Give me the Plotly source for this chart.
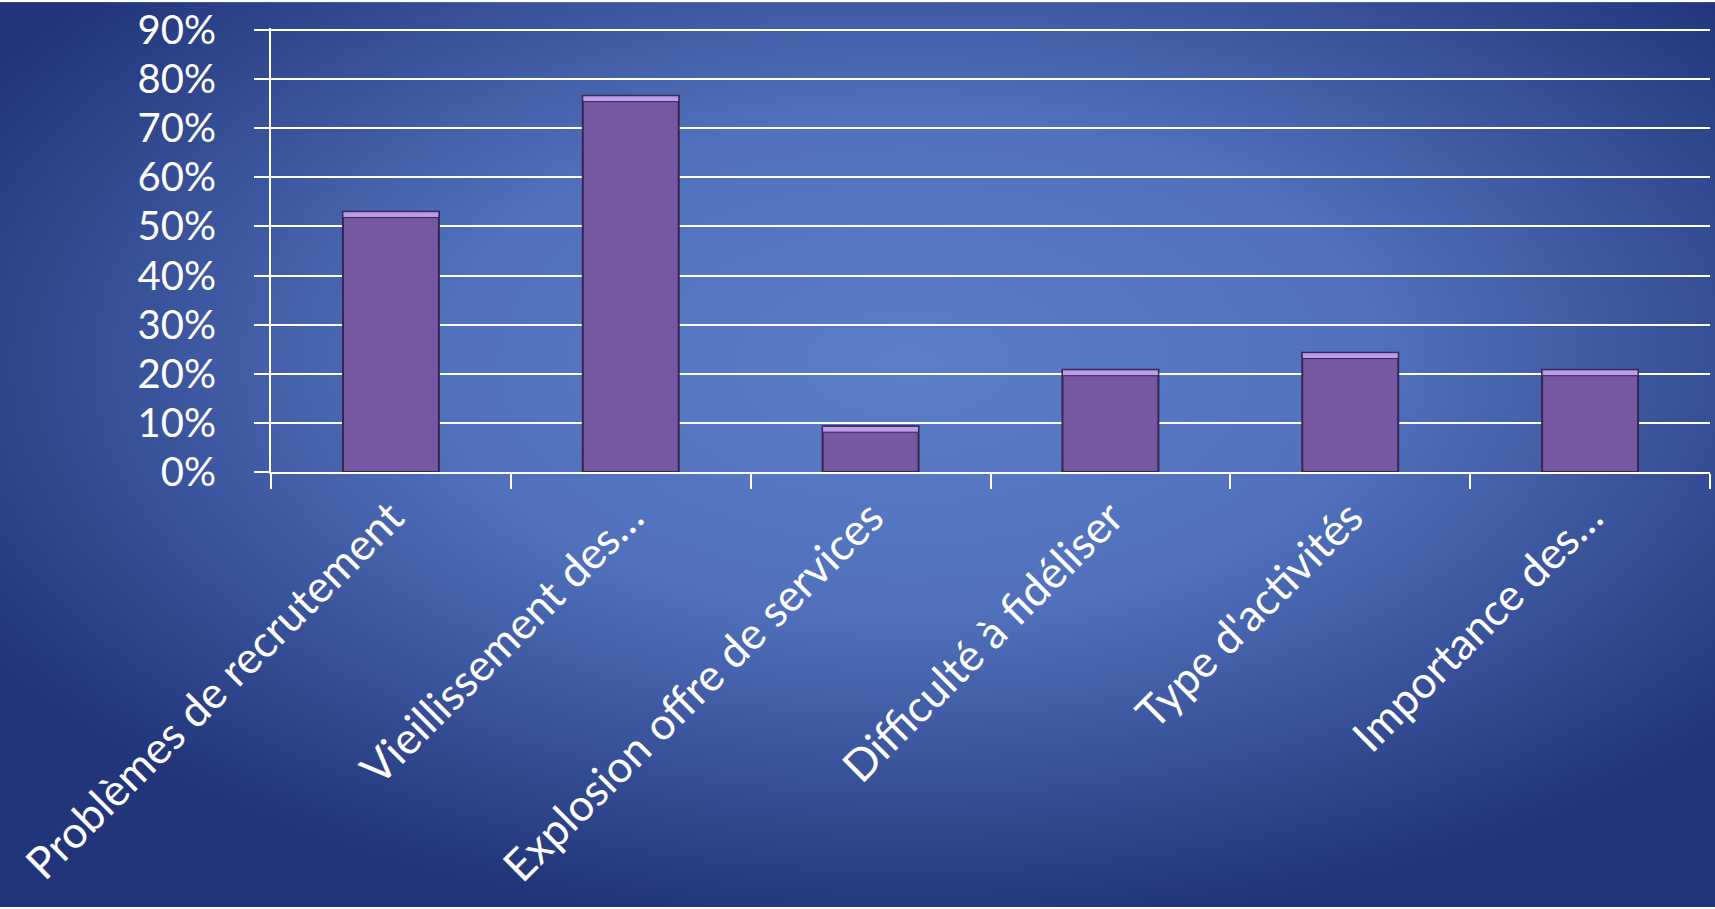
import base64
import plotly.graph_objects as go

categories = [
    "Problèmes de recrutement",
    "Vieillissement des…",
    "Explosion offre de services",
    "Difficulté à fidéliser",
    "Type d'activités",
    "Importance des…",
]
values = [0.53, 0.766, 0.093, 0.208, 0.243, 0.208]
y_ticks = [0.0, 0.1, 0.2, 0.3, 0.4, 0.5, 0.6, 0.7, 0.8, 0.9]
y_tick_labels = ["0%", "10%", "20%", "30%", "40%", "50%", "60%", "70%", "80%", "90%"]

bevel = 0.012  # light top edge thickness (fraction of axis)

W, H = 1715, 909
svg = f'''<svg xmlns="http://www.w3.org/2000/svg" width="{W}" height="{H}" viewBox="0 0 {W} {H}" preserveAspectRatio="none">
<defs><radialGradient id="g" cx="0.53" cy="0.40" r="0.62">
<stop offset="0" stop-color="#5b7ec8"/>
<stop offset="0.45" stop-color="#5070bb"/>
<stop offset="1" stop-color="#22357a"/>
</radialGradient></defs>
<rect width="{W}" height="{H}" fill="url(#g)"/></svg>'''
bg_src = "data:image/svg+xml;base64," + base64.b64encode(svg.encode()).decode()

FONT = "Lato"
ML, MR, MT, MB = 271, 5, 26, 437
Y_MAX = 0.904

fig = go.Figure()
fig.add_trace(go.Bar(
    x=categories, y=values,
    marker=dict(color="#7658a3", line=dict(color="#35264f", width=2)),
    hoverinfo="x+y",
))
fig.add_trace(go.Bar(
    x=categories, y=[bevel] * len(values),
    base=[v - bevel for v in values],
    marker=dict(color="#bc9bea", line=dict(color="#35264f", width=1)),
    hoverinfo="skip",
))

fig.update_layout(
    width=W, height=H,
    margin=dict(l=ML, r=MR, t=MT, b=MB),
    paper_bgcolor="rgba(0,0,0,0)",
    plot_bgcolor="rgba(0,0,0,0)",
    barmode="overlay",
    bargap=0.6,
    showlegend=False,
    font=dict(family=FONT, size=41, color="white"),
    images=[dict(source=bg_src, xref="paper", yref="paper",
                 x=-ML / (W - ML - MR), y=1 + MT / (H - MT - MB),
                 sizex=W / (W - ML - MR), sizey=H / (H - MT - MB),
                 sizing="stretch", layer="below",
                 xanchor="left", yanchor="top")],
)

fig.update_xaxes(
    type="category",
    tickangle=-45,
    showline=True, linecolor="white", linewidth=2,
    ticks="outside", tickson="boundaries", ticklen=15, tickwidth=2, tickcolor="white",
    showgrid=False,
    tickfont=dict(family=FONT, size=44, color="white"),
)
fig.update_yaxes(
    range=[0, Y_MAX], tickvals=y_ticks, ticktext=y_tick_labels,
    showline=True, linecolor="white", linewidth=2,
    ticks="outside", ticklen=15, tickwidth=2, tickcolor="white",
    showgrid=True, gridcolor="white", gridwidth=2,
    zeroline=False,
    ticklabelstandoff=30,
    ticklabeloverflow="allow",
    tickfont=dict(family=FONT, size=40, color="white"),
)

fig.write_html("out.html")
